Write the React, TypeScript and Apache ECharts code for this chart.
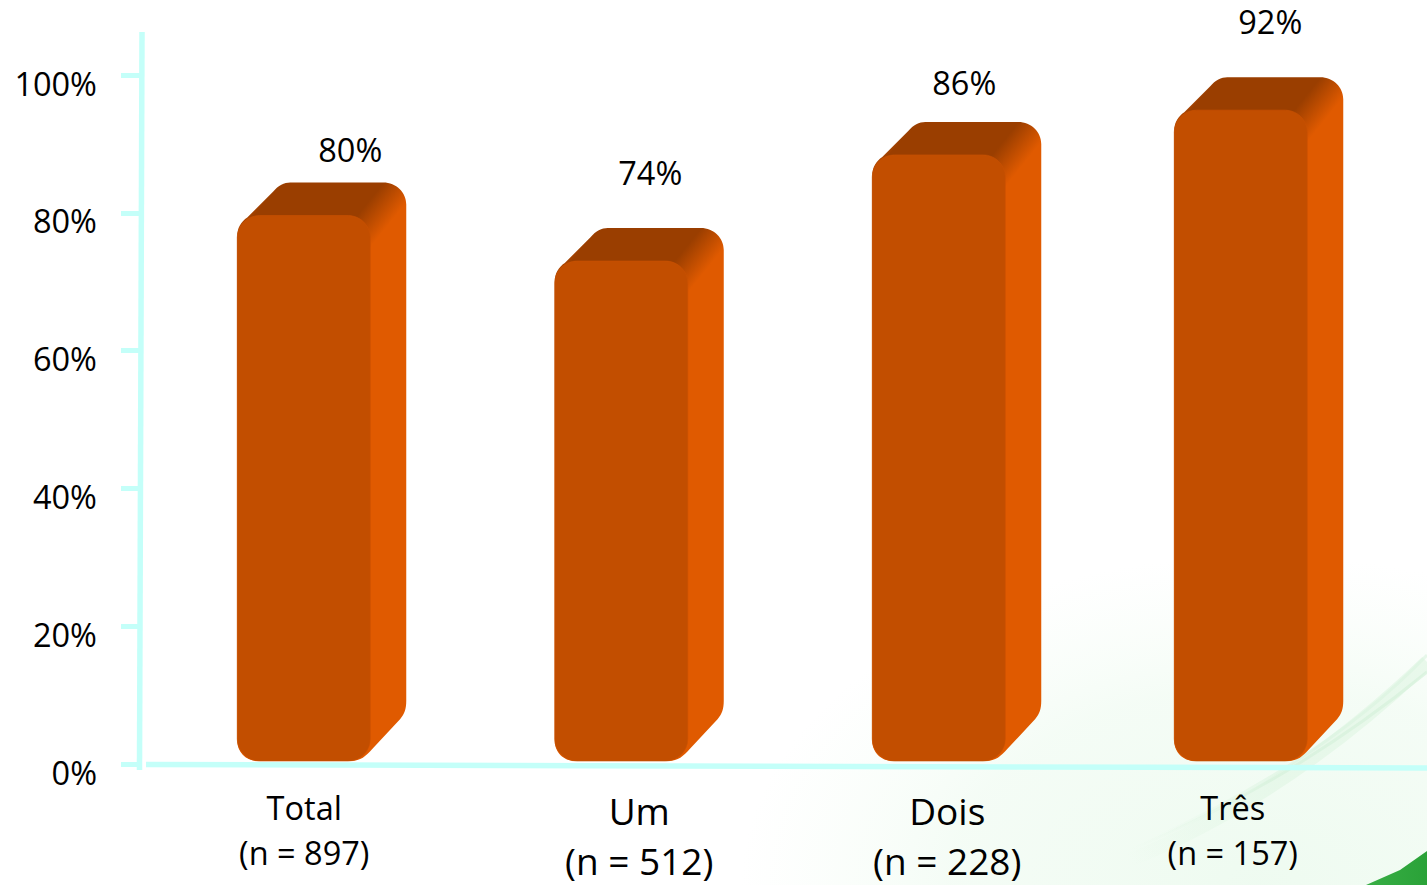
import React, { useEffect, useRef } from "react";
import * as echarts from "echarts";

// Data
const categories = ["Total", "Um", "Dois", "Três"];
const sampleSizes = ["(n = 897)", "(n = 512)", "(n = 228)", "(n = 157)"];
// Height of each drawn bar (the picture's bars do not exactly follow their printed labels)
const barHeights = [79.6, 73, 88.4, 94.9];
// Values printed above the bars
const printedValues = ["80%", "74%", "86%", "92%"];
const yTicks = [0, 20, 40, 60, 80, 100];

// Layout (separate from the data)
const W = 1427;
const H = 885;
const FONT = "'Open Sans', sans-serif";
const GRID = { left: 145, top: 75, width: 1270, height: 689 };
const BAR_W = 133;
const DEPTH_X = 36;
const DEPTH_Y = 33;
const BASE_GAP = 3;
const barNudge = [0, 0, 0, -15.5];
const printedDx = [46.5, 29, 25.5, 29.5];
const printedDy = [-33, -56, -39, -56];
const catDx = [0.5, 18, 8.5, -8];
const catY = [807, 810, 810, 807];
const nY = [852, 860, 860, 852];
const catSize = [32.5, 37, 37, 32.5];

const FRONT = "#C24E00";
const SIDE = "#E05A00";
const TOP = "#9A3E00";
const AXIS = "#C4FFF9";

function renderBar(_params: any, api: any) {
  const i = api.value(0) as number;
  const [cx, yTop] = api.coord([i, api.value(1)]);
  const [, yZero] = api.coord([i, 0]);
  const l = cx + barNudge[i] - BAR_W / 2;
  const r = l + BAR_W;
  const b = yZero - BASE_GAP;
  const t = yTop;
  const bt = t - DEPTH_Y;
  const rr = r + DEPTH_X;

  const silhouette = [
    `M${l} ${t + 21}`,
    `C${l} ${t + 12} ${l + 4} ${t + 6} ${l + 10} ${t + 2}`,
    `L${l + 36} ${bt + 9}`,
    `C${l + 41} ${bt + 3} ${l + 47} ${bt} ${l + 53} ${bt}`,
    `L${rr - 23} ${bt}`,
    `C${rr - 10} ${bt} ${rr} ${bt + 10} ${rr} ${bt + 22}`,
    `L${rr} ${b - 60}`,
    `C${rr} ${b - 52} ${rr - 2} ${b - 47} ${rr - 6} ${b - 42}`,
    `L${r + 2} ${b - 12}`,
    `C${r - 4} ${b - 5} ${r - 10} ${b} ${r - 19} ${b}`,
    `L${l + 20} ${b}`,
    `C${l + 9} ${b} ${l} ${b - 9} ${l} ${b - 20}`,
    "Z",
  ].join(" ");

  const front = [
    `M${l} ${t + 22}`,
    `C${l} ${t + 10} ${l + 10} ${t} ${l + 22} ${t}`,
    `L${r - 22} ${t}`,
    `C${r - 10} ${t} ${r} ${t + 10} ${r} ${t + 22}`,
    `L${r} ${b - 22}`,
    `C${r} ${b - 10} ${r - 10} ${b} ${r - 22} ${b}`,
    `L${l + 22} ${b}`,
    `C${l + 10} ${b} ${l} ${b - 10} ${l} ${b - 22}`,
    "Z",
  ].join(" ");

  // Shading across the top face: a light rim on the left edge, dark face, light right corner
  const nx = 0.78;
  const ny = 0.63;
  const ox = r - 13;
  const oy = t;
  const span = 122;
  const startX = ox - 92 * nx;
  const startY = oy - 92 * ny;
  const stop = (d: number) => (d + 92) / span;
  const gradient = {
    type: "linear",
    global: true,
    x: startX,
    y: startY,
    x2: startX + span * nx,
    y2: startY + span * ny,
    colorStops: [
      { offset: 0, color: FRONT },
      { offset: stop(-80), color: TOP },
      { offset: stop(0), color: TOP },
      { offset: 1, color: SIDE },
    ],
  };

  const textStyle = {
    align: "center",
    verticalAlign: "middle",
    fill: "#000",
    fontFamily: FONT,
  };
  return {
    type: "group",
    children: [
      { type: "path", shape: { pathData: silhouette }, style: { fill: gradient } },
      { type: "path", shape: { pathData: front }, style: { fill: FRONT, stroke: "#C9520099", lineWidth: 1 } },
      {
        type: "text",
        style: {
          ...textStyle,
          text: printedValues[i],
          x: cx + barNudge[i] + printedDx[i],
          y: bt + printedDy[i],
          fontSize: 32.5,
        },
      },
      {
        type: "text",
        style: {
          ...textStyle,
          text: categories[i],
          x: cx + barNudge[i] + catDx[i],
          y: catY[i],
          fontSize: catSize[i],
        },
      },
      {
        type: "text",
        style: {
          ...textStyle,
          text: sampleSizes[i],
          x: cx + barNudge[i] + catDx[i],
          y: nY[i],
          fontSize: catSize[i],
        },
      },
    ],
  };
}

const streak = (x1: number, y1: number, cx1: number, cy1: number, cx2: number, cy2: number, x2: number, y2: number, color: string, w: number) => ({
  type: "bezierCurve",
  silent: true,
  shape: { x1, y1, x2, y2, cpx1: cx1, cpy1: cy1, cpx2: cx2, cpy2: cy2 },
  style: {
    fill: "none",
    lineWidth: w,
    stroke: {
      type: "linear",
      global: true,
      x: x1,
      y: y1,
      x2,
      y2,
      colorStops: [
        { offset: 0, color: "rgba(225,246,228,0)" },
        { offset: 0.45, color },
        { offset: 1, color },
      ],
    },
  },
});

export default function App() {
  const ref = useRef<HTMLDivElement>(null);

  useEffect(() => {
    document.body.style.margin = "0";
    const chart = echarts.init(ref.current!, null, { renderer: "svg" });
    chart.setOption({
      animation: false,
      backgroundColor: "#FFFFFF",
      grid: { ...GRID, containLabel: false },
      xAxis: {
        type: "category",
        data: categories,
        axisLine: { show: false },
        axisTick: { show: false },
        axisLabel: { show: false },
      },
      yAxis: {
        type: "value",
        min: yTicks[0],
        max: yTicks[yTicks.length - 1],
        interval: 20,
        offset: 4,
        splitLine: { show: false },
        axisLine: { show: false },
        axisTick: { show: true, inside: false, length: 20, lineStyle: { color: AXIS, width: 5 } },
        axisLabel: {
          formatter: "{value}%",
          color: "#000",
          fontFamily: FONT,
          fontSize: 32.5,
          margin: 44,
          verticalAlign: "top",
          lineHeight: 16,
        },
      },
      graphic: {
        elements: [
          {
            type: "ellipse",
            silent: true,
            shape: { cx: 1260, cy: 885, rx: 520, ry: 330 },
            style: {
              fill: {
                type: "radial",
                x: 0.5,
                y: 0.5,
                r: 0.5,
                colorStops: [
                  { offset: 0, color: "rgba(215,245,220,0.42)" },
                  { offset: 0.6, color: "rgba(220,246,224,0.3)" },
                  { offset: 1, color: "rgba(230,250,232,0)" },
                ],
              },
            },
          },
          streak(1130, 860, 1240, 815, 1340, 745, W, 662, "rgba(228,247,231,0.8)", 14),
          streak(1130, 850, 1250, 800, 1350, 735, W, 672, "rgba(214,241,219,0.7)", 3),
          streak(1150, 840, 1270, 785, 1360, 725, W, 655, "rgba(218,243,223,0.6)", 3),
          {
            type: "polygon",
            silent: true,
            shape: { points: [[1366, 885], [1400, 870], [W, 851], [W, 885]] },
            style: {
              fill: {
                type: "linear",
                x: 0,
                y: 0,
                x2: 1,
                y2: 0,
                colorStops: [
                  { offset: 0, color: "#38AE45" },
                  { offset: 1, color: "#2AA238" },
                ],
              },
            },
          },
          {
            type: "line",
            silent: true,
            shape: { x1: 142, y1: 32, x2: 139.5, y2: 770 },
            style: { stroke: AXIS, lineWidth: 5.5 },
          },
          {
            type: "line",
            silent: true,
            shape: { x1: 146, y1: 764.5, x2: W, y2: 768 },
            style: { stroke: AXIS, lineWidth: 5.5 },
          },
        ],
      },
      series: [
        {
          type: "custom",
          renderItem: renderBar,
          clip: false,
          encode: { x: 0, y: 1 },
          data: barHeights.map((v, i) => [i, v]),
        },
      ],
    });
    return () => chart.dispose();
  }, []);

  return <div ref={ref} style={{ position: "absolute", left: 0, top: 0, width: W, height: H }} />;
}
